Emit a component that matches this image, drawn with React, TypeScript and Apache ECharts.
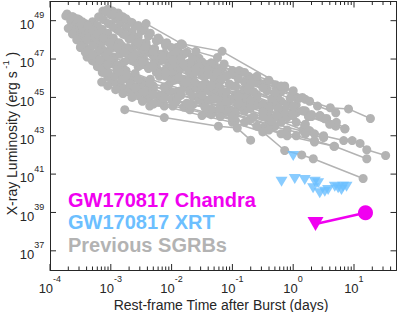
import { useEffect, useRef } from "react";
import * as echarts from "echarts";

// All values are log10: X = log10(rest-frame time, days), Y = log10(L_X, erg/s)
const X_MIN = -4;
const X_MAX = Math.log10(50);
const Y_MIN = 36;
const Y_MAX = 50;

const xTickExps = [-4, -3, -2, -1, 0, 1];
const yTickExps = [37, 39, 41, 43, 45, 47, 49];

const legendLabels = ["GW170817 Chandra", "GW170817 XRT", "Previous SGRBs"];

const chandraPoints = [
  [0.367, 38.4],
  [1.189, 38.99],
];

const xrtPoints = [
  [0.0, 41.94], [-0.192, 40.6], [0.026, 40.75], [0.19, 40.69], [0.355, 40.6],
  [0.41, 40.52], [0.327, 40.26], [0.437, 40.0], [0.52, 40.08], [0.574, 40.17],
  [0.684, 40.34], [0.739, 40.26], [0.82, 40.34], [0.877, 40.34], [0.794, 40.17],
];

const sgrbCurves = [
  [[-3.74,49.25],[-3.66,49.0],[-3.58,48.75],[-3.5,48.5],[-3.42,48.25],[-3.33,48.0],[-3.22,47.7],[-3.1,47.4],[-2.95,47.1],[-2.78,46.85],[-2.55,46.6],[-2.2,46.3],[-1.8,45.95],[-1.3,45.5],[-0.8,45.0]],
  [[-3.72,49.35],[-3.62,49.2],[-3.52,49.05],[-3.42,48.85],[-3.3,48.6],[-3.18,48.35],[-3.05,48.1],[-2.9,47.85],[-2.72,47.6],[-2.5,47.3],[-2.25,47.0],[-1.95,46.7],[-1.6,46.35],[-1.2,46.0],[-0.7,45.4],[-0.2,44.8],[0.3,44.1]],
  [[-3.55,48.3],[-3.47,47.8],[-3.39,47.1],[-3.25,46.9],[-3.1,46.6],[-2.9,46.3],[-2.7,46.0],[-2.4,45.7],[-2.0,45.3],[-1.5,44.8],[-1.0,44.3],[-0.4,43.7],[0.2,43.2]],
  [[-3.64,49.2],[-3.56,48.95],[-3.46,48.65],[-3.36,48.4],[-3.26,48.15],[-3.15,47.9],[-3.0,47.55],[-2.85,47.25],[-2.65,46.95],[-2.4,46.65],[-2.1,46.4],[-1.7,46.0],[-1.2,45.3],[-0.6,44.6]],
  [[-3.4,48.8],[-3.32,48.75],[-3.24,48.6],[-3.15,48.45],[-3.05,48.2],[-2.95,47.95],[-2.82,47.7],[-2.68,47.45],[-2.5,47.15],[-2.28,46.85],[-2.0,46.5],[-1.65,46.1],[-1.25,45.7],[-0.75,45.2],[-0.25,44.6],[0.25,44.0],[0.7,43.5]],
  [[-3.13,49.5],[-3.05,49.6],[-2.97,49.5],[-2.88,49.4],[-2.8,49.2],[-2.7,48.95],[-2.6,48.7],[-2.5,48.45],[-2.38,48.2],[-2.25,47.95],[-2.1,47.7],[-1.9,47.4],[-1.65,47.1],[-1.35,46.8],[-1.0,46.4],[-0.6,45.9],[-0.2,45.4],[0.2,44.9]],
  [[-3.08,49.45],[-3.0,49.3],[-2.92,49.1],[-2.84,48.9],[-2.75,48.65],[-2.65,48.4],[-2.55,48.15],[-2.42,47.85],[-2.28,47.55],[-2.12,47.3],[-1.92,47.05],[-1.7,46.8],[-1.45,46.5],[-1.15,46.15]],
  [[-2.95,49.35],[-2.85,49.25],[-2.75,49.1],[-2.65,48.9],[-2.55,48.75],[-2.45,48.55],[-2.35,48.35],[-2.22,48.1],[-2.08,47.85],[-1.92,47.6],[-1.75,47.35],[-1.55,47.05],[-1.3,46.75],[-1.0,46.4],[-0.6,45.95],[-0.14,45.6],[0.05,45.0]],
  [[-2.42,48.85],[-1.84,47.8],[-1.17,47.4],[0.27,44.8],[0.61,44.46],[0.91,44.4],[1.27,43.9]],
  [[-3.6,48.4],[-3.52,48.1],[-3.44,47.8],[-3.35,47.5],[-3.25,47.25],[-3.12,47.0],[-2.98,46.75],[-2.8,46.5],[-2.6,46.25],[-2.35,45.95],[-2.05,45.65],[-1.7,45.3],[-1.3,44.9],[-0.9,44.5],[-0.4,44.0],[0.16,43.3]],
  [[-3.3,48.95],[-3.22,48.75],[-3.14,48.55],[-3.05,48.35],[-2.96,48.1],[-2.86,47.85],[-2.74,47.55],[-2.6,47.25],[-2.45,46.95],[-2.25,46.6],[-2.0,46.25],[-1.7,45.9],[-1.35,45.55],[-0.95,45.15],[-0.5,44.65],[0.0,44.1]],
  [[-3.2,46.6],[-3.1,46.3],[-3.0,46.0],[-2.88,45.7],[-2.75,45.45],[-2.6,45.2],[-2.4,45.0],[-2.15,44.8],[-1.8,44.5],[-1.4,44.2],[-1.0,43.9],[-0.5,43.4],[0.05,43.0],[0.35,42.75],[0.67,42.45]],
  [[-2.77,44.36],[-2.12,43.95],[-1.23,43.5],[-0.92,43.4],[-0.7,42.77]],
  [[-2.36,44.55],[-2.12,44.55],[-1.5,44.05],[-1.0,43.7],[-0.5,43.2],[-0.14,42.23],[0.14,42.0],[0.33,41.8],[1.15,40.77]],
  [[-2.5,46.9],[-2.3,46.7],[-2.1,46.45],[-1.9,46.2],[-1.7,45.95],[-1.45,45.75],[-1.2,45.5],[-0.9,45.2],[-0.6,44.95],[-0.3,44.6],[0.05,44.2],[0.44,44.05],[0.52,43.88],[0.71,43.7],[0.85,43.36]],
  [[-2.3,47.3],[-2.1,47.05],[-1.9,46.85],[-1.7,46.6],[-1.5,46.4],[-1.16,46.56],[-0.86,46.34],[-0.59,45.87],[-0.43,45.8],[-0.29,45.66],[-0.14,45.5]],
  [[-2.0,45.9],[-1.8,45.7],[-1.6,45.5],[-1.35,45.25],[-1.1,45.0],[-0.8,44.75],[-0.5,44.45],[-0.2,44.1],[0.16,44.3],[0.44,44.05]],
  [[-1.9,45.3],[-1.65,45.05],[-1.4,44.85],[-1.1,44.6],[-0.8,44.3],[-0.5,44.0],[-0.2,43.7],[0.05,43.7],[0.27,43.27],[0.5,43.0]],
  [[-1.6,46.9],[-1.4,46.7],[-1.2,46.5],[-0.95,46.2],[-0.7,45.9],[-0.45,45.6],[-0.2,45.3],[0.1,44.95],[0.4,44.55],[0.7,44.2]],
  [[-2.2,46.1],[-2.0,45.85],[-1.75,45.6],[-1.5,45.4],[-1.25,45.1],[-1.0,44.9],[-0.7,44.6],[-0.4,44.3],[-0.1,43.95],[0.2,43.6]],
  [[-1.3,44.3],[-1.0,44.1],[-0.7,43.85],[-0.4,43.55],[-0.1,43.3],[0.2,43.1],[0.5,42.9]],
  [[-1.0,45.6],[-0.8,45.4],[-0.6,45.15],[-0.35,44.9],[-0.1,44.6],[0.2,44.3],[0.55,43.9]],
  [[-0.9,44.95],[-0.65,44.7],[-0.4,44.5],[-0.15,44.25],[0.16,44.3],[0.3,44.0],[0.6,43.6],[0.85,43.36]],
  [[0.35,43.1],[0.83,42.75],[0.97,42.75],[1.1,42.6],[1.21,42.27],[1.52,41.97]],
  [[-0.1,43.0],[0.35,42.67],[0.68,42.45],[1.21,41.8]],
  [[-2.9,48.6],[-2.8,48.4],[-2.7,48.2],[-2.6,48.0],[-2.5,47.8],[-2.4,47.6],[-2.3,47.45],[-2.18,47.25],[-2.05,47.05],[-1.9,46.9],[-1.75,46.75],[-1.55,46.55],[-1.35,46.35],[-1.1,46.1],[-0.8,45.8],[-0.43,45.35],[-0.26,45.0]],
  [[-2.7,47.0],[-2.6,46.85],[-2.5,46.7],[-2.38,46.5],[-2.25,46.3],[-2.1,46.1],[-1.95,45.9],[-1.78,45.75],[-1.6,45.55],[-1.4,45.35],[-1.15,45.15],[-0.9,44.85]],
  [[-3.25,47.8],[-3.15,47.55],[-3.05,47.3],[-2.95,47.0],[-2.85,46.7],[-2.75,46.4],[-2.62,46.1],[-2.48,45.85],[-2.3,45.6],[-2.1,45.35],[-1.85,45.1],[-1.55,44.85],[-1.2,44.55],[-0.8,44.3]],
  [[-2.6,47.7],[-2.5,47.55],[-2.4,47.35],[-2.3,47.15],[-2.2,46.95],[-2.05,46.75],[-1.9,46.55],[-1.72,46.35],[-1.5,46.15],[-1.3,45.95],[-1.05,45.7],[-0.75,45.4]],
  [[-2.2,48.0],[-2.1,47.8],[-2.0,47.6],[-1.9,47.4],[-1.8,47.25],[-1.65,47.05],[-1.5,46.85],[-1.35,46.7],[-1.2,46.5],[-1.0,46.25],[-0.73,46.1],[-0.5,45.7],[-0.24,45.5],[0.0,45.1]],
  [[-1.82,47.75],[-1.6,47.4],[-1.245,47.08],[-1.136,46.74],[-0.89,46.4],[-0.617,45.79],[-0.43,45.35],[-0.264,45.0],[0.05,44.6]],
  [[-3.4,48.0],[-3.3,47.7],[-3.2,47.4],[-3.1,47.15],[-3.0,46.9],[-2.9,46.65],[-2.8,46.35],[-2.65,45.95],[-2.5,45.7],[-2.3,45.45],[-2.1,45.2],[-1.9,45.0]],
  [[-2.85,46.2],[-2.7,45.9],[-2.55,45.6],[-2.4,45.35],[-2.22,45.1],[-2.0,44.9],[-1.75,44.7],[-1.45,44.5],[-1.1,44.25],[-0.7,43.9],[-0.3,43.5]],
  [[-3.0,48.8],[-2.9,48.55],[-2.8,48.3],[-2.7,48.05],[-2.58,47.8],[-2.45,47.5],[-2.3,47.2],[-2.15,46.95],[-2.0,46.7],[-1.85,46.5],[-1.65,46.3],[-1.45,46.1],[-1.2,45.85],[-0.95,45.6],[-0.65,45.3],[-0.35,44.95],[0.0,44.55],[0.3,44.1]],
  [[-3.3,46.9],[-3.22,46.6],[-3.14,46.3],[-3.05,46.05],[-2.95,45.8],[-2.83,45.55],[-2.7,45.35],[-2.55,45.15],[-2.38,44.95],[-2.2,44.75],[-1.98,44.55],[-1.7,44.35],[-1.35,44.1],[-0.95,43.8]],
  [[-3.15,45.8],[-3.05,45.6],[-2.92,45.4],[-2.8,45.2],[-2.65,45.0],[-2.48,44.8],[-2.3,44.65]],
  [[-3.5,47.6],[-3.42,47.35],[-3.33,47.05],[-3.24,46.8],[-3.15,46.55],[-3.05,46.3],[-2.94,46.1],[-2.82,45.9],[-2.68,45.7],[-2.52,45.5],[-2.35,45.3],[-2.15,45.05],[-1.92,44.85],[-1.65,44.62],[-1.35,44.4],[-1.0,44.15]],
  [[-3.7,48.6],[-3.63,48.3],[-3.56,48.0],[-3.49,47.7],[-3.4,47.4],[-3.3,47.2],[-3.18,46.95],[-3.05,46.7],[-2.9,46.45],[-2.74,46.2],[-2.55,45.95],[-2.35,45.75],[-2.12,45.55],[-1.85,45.35],[-1.55,45.1],[-1.2,44.8],[-0.85,44.55]],
  [[-2.6,45.5],[-2.45,45.3],[-2.3,45.15],[-2.12,44.95],[-1.92,44.8],[-1.7,44.65],[-1.45,44.5],[-1.2,44.35],[-0.95,44.2],[-0.65,44.0],[-0.35,43.75]],
  [[-2.0,47.2],[-1.85,47.0],[-1.7,46.8],[-1.55,46.6],[-1.4,46.45],[-1.25,46.3],[-1.08,46.15],[-0.9,45.95],[-0.7,45.7],[-0.5,45.5],[-0.3,45.25],[-0.05,44.95]],
  [[-1.7,45.8],[-1.5,45.6],[-1.3,45.45],[-1.1,45.3],[-0.9,45.05],[-0.7,44.85],[-0.5,44.6],[-0.25,44.4],[0.0,44.1]],
  [[-1.5,45.1],[-1.3,44.95],[-1.1,44.8],[-0.9,44.65],[-0.7,44.45],[-0.5,44.25],[-0.28,44.05]],
  [[-3.2,49.2],[-3.12,49.05],[-3.04,48.85],[-2.95,48.65],[-2.86,48.45],[-2.76,48.25],[-2.66,48.05],[-2.55,47.85],[-2.43,47.65],[-2.3,47.4],[-2.15,47.15],[-1.98,46.95],[-1.8,46.7],[-1.6,46.45],[-1.4,46.2],[-1.18,45.95]],
  [[-3.55,49.1],[-3.47,48.95],[-3.38,48.75],[-3.3,48.5],[-3.22,48.3],[-3.12,48.1],[-3.02,47.85],[-2.9,47.6],[-2.78,47.35],[-2.64,47.1],[-2.48,46.85],[-2.3,46.6],[-2.1,46.3],[-1.88,46.05],[-1.62,45.8],[-1.35,45.6]],
  [[-1.2,44.0],[-1.0,43.95],[-0.8,43.7],[-0.6,43.5],[-0.4,43.3],[-0.2,43.1]],
  [[-0.8,46.3],[-0.6,46.1],[-0.4,45.9],[-0.2,45.6],[0.0,45.35],[0.15,45.0]],
];

const FONT = "'Liberation Sans', Arial, Helvetica, sans-serif";
const AX = "#262626";
const GRAY = "#b3b3b3";
const BLUE = "#6cbfff";
const MAGENTA = "#f000f0";

const isInt = (v: number) => Math.abs(v - Math.round(v)) < 1e-6;

const richTick = {
  b: { fontSize: 13, lineHeight: 13, verticalAlign: "bottom", fontFamily: FONT, color: AX },
  s: { fontSize: 9, lineHeight: 15.4, verticalAlign: "top", fontFamily: FONT, color: AX },
  z: { fontSize: 1, lineHeight: 20.2, fontFamily: FONT, color: AX },
};

export default function App() {
  const ref = useRef<HTMLDivElement>(null);
  useEffect(() => {
    if (!ref.current) return;
    const chart = echarts.init(ref.current, undefined, { renderer: "svg" });

    const xTickData: number[][] = [];
    xTickExps.forEach((e) => {
      xTickData.push([e, 1]);
      for (let k = 2; k <= 9; k++) {
        const v = e + Math.log10(k);
        if (v < X_MAX - 1e-6) xTickData.push([v, 0]);
      }
    });
    const yTickData = yTickExps.map((e) => [X_MIN, e]);

    const grayLines = sgrbCurves.map((c, i) => ({
      type: "line",
      name: "sgrb" + i,
      data: c,
      symbol: "circle",
      symbolSize: 9,
      showAllSymbol: true,
      lineStyle: { color: GRAY, width: 1.5 },
      itemStyle: { color: GRAY },
      silent: true,
      z: 2,
    }));

    const labelFmt = (list: number[]) => (v: number) =>
      isInt(v) && list.includes(Math.round(v)) ? `{b|10}{s|${Math.round(v)}}{z| }` : "";

    const axisBase = {
      type: "value",
      axisTick: { show: false },
      splitLine: { show: false },
    };

    chart.setOption({
      animation: false,
      backgroundColor: "#ffffff",
      grid: { left: 50, right: 2.5, top: 1.5, bottom: 42, containLabel: false },
      xAxis: [
        {
          ...axisBase,
          min: X_MIN,
          max: X_MAX,
          interval: 1,
          position: "bottom",
          axisLine: { show: true, onZero: false, lineStyle: { color: AX, width: 1 } },
          axisLabel: { formatter: labelFmt(xTickExps), rich: richTick, margin: 4.5, showMaxLabel: false },
        },
        {
          ...axisBase,
          min: X_MIN,
          max: X_MAX,
          interval: 1,
          position: "top",
          axisLine: { show: true, onZero: false, lineStyle: { color: AX, width: 1 } },
          axisLabel: { show: false },
        },
      ],
      yAxis: [
        {
          ...axisBase,
          min: Y_MIN,
          max: Y_MAX,
          interval: 1,
          position: "left",
          axisLine: { show: true, onZero: false, lineStyle: { color: AX, width: 1 } },
          axisLabel: { formatter: labelFmt(yTickExps), rich: richTick, margin: 5.5 },
        },
        {
          ...axisBase,
          min: Y_MIN,
          max: Y_MAX,
          interval: 1,
          position: "right",
          axisLine: { show: true, onZero: false, lineStyle: { color: AX, width: 1 } },
          axisLabel: { show: false },
        },
      ],
      series: [
        ...grayLines,
        {
          type: "scatter",
          name: "xrt",
          data: xrtPoints,
          symbol: "triangle",
          symbolRotate: 180,
          symbolSize: [12, 10],
          itemStyle: { color: BLUE },
          silent: true,
          z: 3,
        },
        {
          type: "line",
          name: "chandra",
          data: [
            { value: chandraPoints[0], symbol: "triangle", symbolRotate: 180, symbolSize: [16, 14] },
            { value: chandraPoints[1], symbol: "circle", symbolSize: 15 },
          ],
          lineStyle: { color: MAGENTA, width: 2.5 },
          itemStyle: { color: MAGENTA },
          silent: true,
          z: 4,
        },
        {
          type: "custom",
          name: "xticks",
          data: xTickData,
          silent: true,
          z: 5,
          renderItem: (params: any, api: any) => {
            const v = api.value(0);
            const len = api.value(1) === 1 ? 6 : 3.5;
            const b = api.coord([v, Y_MIN]);
            const t = api.coord([v, Y_MAX]);
            return {
              type: "group",
              children: [
                { type: "line", shape: { x1: b[0], y1: b[1], x2: b[0], y2: b[1] - len }, style: { stroke: AX, lineWidth: 1 } },
                { type: "line", shape: { x1: t[0], y1: t[1], x2: t[0], y2: t[1] + len }, style: { stroke: AX, lineWidth: 1 } },
              ],
            };
          },
        },
        {
          type: "custom",
          name: "yticks",
          data: yTickData,
          silent: true,
          z: 5,
          renderItem: (params: any, api: any) => {
            const v = api.value(1);
            const l = api.coord([X_MIN, v]);
            const r = api.coord([X_MAX, v]);
            const len = 6;
            return {
              type: "group",
              children: [
                { type: "line", shape: { x1: l[0], y1: l[1], x2: l[0] + len, y2: l[1] }, style: { stroke: AX, lineWidth: 1 } },
                { type: "line", shape: { x1: r[0], y1: r[1], x2: r[0] - len, y2: r[1] }, style: { stroke: AX, lineWidth: 1 } },
              ],
            };
          },
        },
      ],
      graphic: [
        {
          type: "text",
          x: 68,
          y: 200,
          silent: true,
          style: { text: legendLabels[0], fill: MAGENTA, fontSize: 20, fontWeight: "bold", fontFamily: FONT, align: "left", verticalAlign: "middle" },
        },
        {
          type: "text",
          x: 68,
          y: 221.5,
          silent: true,
          style: { text: legendLabels[1], fill: BLUE, fontSize: 20, fontWeight: "bold", fontFamily: FONT, align: "left", verticalAlign: "middle" },
        },
        {
          type: "text",
          x: 68,
          y: 244.5,
          silent: true,
          style: { text: legendLabels[2], fill: GRAY, fontSize: 20, fontWeight: "bold", fontFamily: FONT, align: "left", verticalAlign: "middle" },
        },
        {
          type: "text",
          x: 221,
          y: 305,
          silent: true,
          style: { text: "Rest-frame Time after Burst (days)", fill: AX, fontSize: 14, fontFamily: FONT, align: "center", verticalAlign: "middle" },
        },
        {
          type: "text",
          x: 9.5,
          y: 133.5,
          rotation: Math.PI / 2,
          silent: true,
          style: {
            text: "{a|X-ray Luminosity (erg s}{s| -1}{a| )}",
            align: "center",
            verticalAlign: "middle",
            rich: {
              a: { fontSize: 14, fontFamily: FONT, fill: AX, lineHeight: 18, verticalAlign: "bottom" },
              s: { fontSize: 9.5, fontFamily: FONT, fill: AX, lineHeight: 8, verticalAlign: "top" },
            },
          },
        },
      ],
    });
    return () => chart.dispose();
  }, []);
  return (
    <div
      ref={ref}
      style={{ position: "fixed", left: 0, top: 0, width: 399, height: 312, background: "#fff" }}
    />
  );
}
